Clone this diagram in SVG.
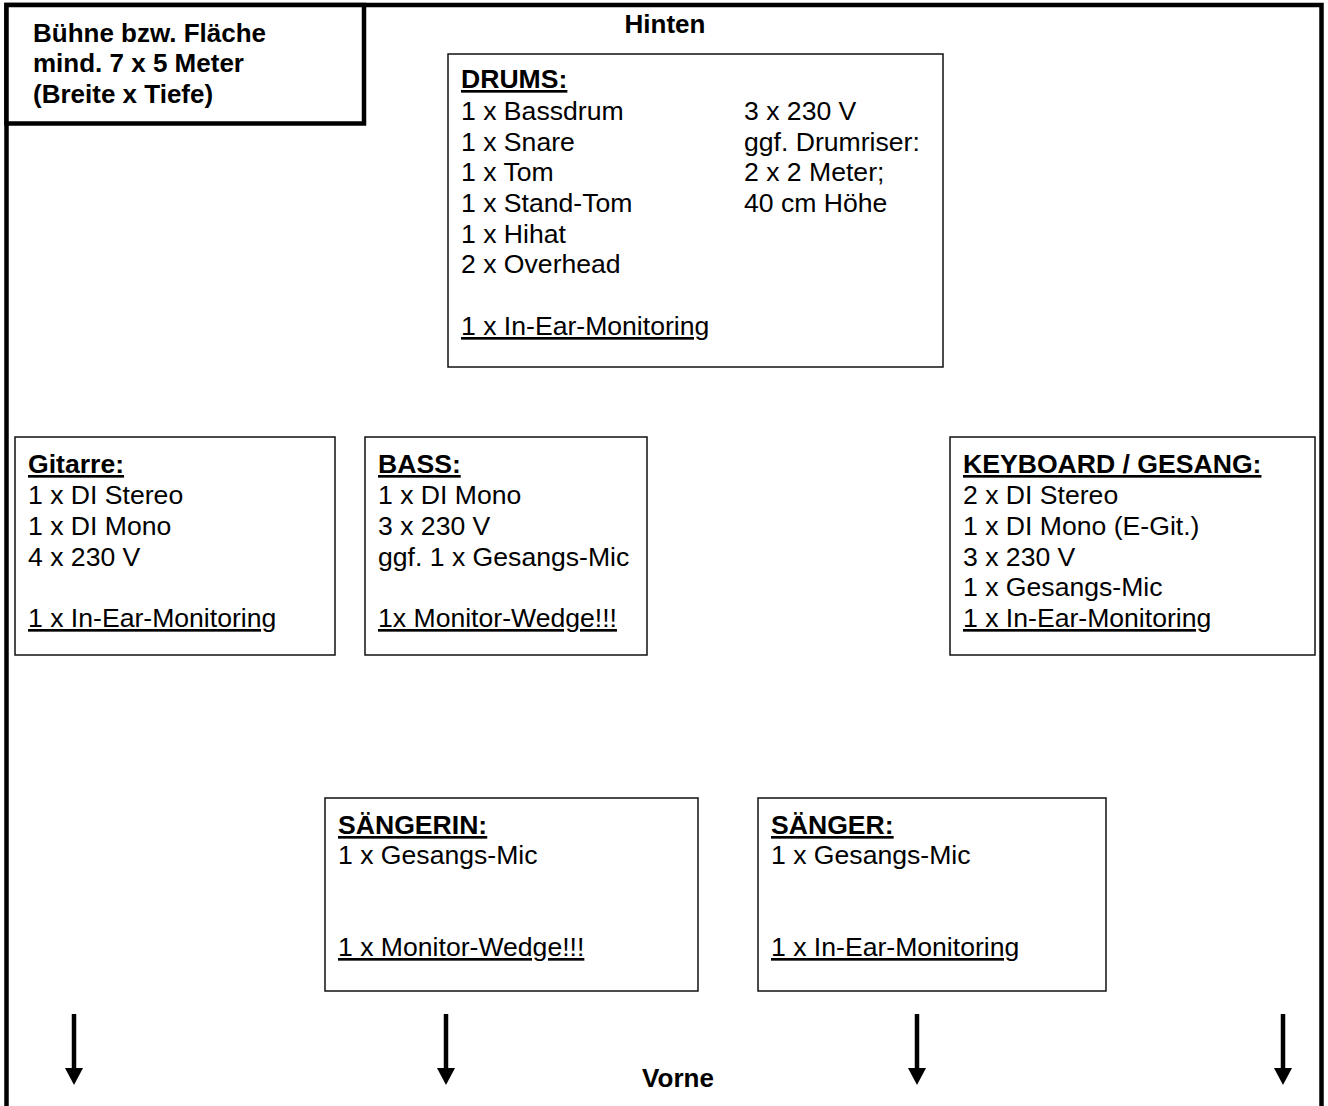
<svg xmlns="http://www.w3.org/2000/svg" width="1328" height="1106" viewBox="0 0 1328 1106">
<style>
.t{font-family:"Liberation Sans",Arial,sans-serif;font-size:26.6px;fill:#000}
.b{font-weight:bold}
.h{font-size:26px}
.u{text-decoration:underline}
.box{fill:#fff;stroke:#111;stroke-width:1.5}
.frame{fill:none;stroke:#000;stroke-width:4.5}
.arrow{stroke:#000;stroke-width:4.5;fill:none}
</style>
<defs>
<marker id="ah" markerUnits="userSpaceOnUse" markerWidth="20" markerHeight="18" refX="9" refY="0" orient="0" viewBox="-1 0 20 18">
<path d="M0,0 L18,0 L9,17 Z" fill="#000"/>
</marker>
</defs>
<rect width="1328" height="1106" fill="#fff"/>
<g id="frame">
<path class="frame" d="M6.5,1106 V5 H1321.5 V1106"/>
</g>
<g id="stage-info">
<rect x="6.5" y="5" width="357.5" height="118.5" fill="#fff" stroke="#000" stroke-width="4.5"/>
<text class="t b h" x="33" y="42">Bühne bzw. Fläche</text>
<text class="t b h" x="33" y="72">mind. 7 x 5 Meter</text>
<text class="t b h" x="33" y="103">(Breite x Tiefe)</text>
</g>
<g id="hinten">
<text class="t b h" x="665" y="33" text-anchor="middle">Hinten</text>
</g>
<g id="vorne">
<text class="t b h" x="678" y="1087" text-anchor="middle">Vorne</text>
</g>
<g id="drums">
<rect class="box" x="448" y="54" width="495" height="313"/>
<text class="t b u" x="461" y="88">DRUMS:</text>
<text class="t" x="461" y="120">1 x Bassdrum</text>
<text class="t" x="461" y="150.5">1 x Snare</text>
<text class="t" x="461" y="181">1 x Tom</text>
<text class="t" x="461" y="212">1 x Stand-Tom</text>
<text class="t" x="461" y="243">1 x Hihat</text>
<text class="t" x="461" y="273">2 x Overhead</text>
<text class="t u" x="461" y="335">1 x In-Ear-Monitoring</text>
<text class="t" x="744" y="120">3 x 230 V</text>
<text class="t" x="744" y="150.5">ggf. Drumriser:</text>
<text class="t" x="744" y="181">2 x 2 Meter;</text>
<text class="t" x="744" y="212">40 cm Höhe</text>
</g>
<g id="gitarre">
<rect class="box" x="15" y="437" width="320" height="218"/>
<text class="t b u" x="28" y="473">Gitarre:</text>
<text class="t" x="28" y="504">1 x DI Stereo</text>
<text class="t" x="28" y="535">1 x DI Mono</text>
<text class="t" x="28" y="566">4 x 230 V</text>
<text class="t u" x="28" y="627">1 x In-Ear-Monitoring</text>
</g>
<g id="bass">
<rect class="box" x="365" y="437" width="282" height="218"/>
<text class="t b u" x="378" y="473">BASS:</text>
<text class="t" x="378" y="504">1 x DI Mono</text>
<text class="t" x="378" y="535">3 x 230 V</text>
<text class="t" x="378" y="566">ggf. 1 x Gesangs-Mic</text>
<text class="t u" x="378" y="627">1x Monitor-Wedge!!!</text>
</g>
<g id="keyboard">
<rect class="box" x="950" y="437" width="365" height="218"/>
<text class="t b u" x="963" y="473">KEYBOARD / GESANG:</text>
<text class="t" x="963" y="504">2 x DI Stereo</text>
<text class="t" x="963" y="535">1 x DI Mono (E-Git.)</text>
<text class="t" x="963" y="566">3 x 230 V</text>
<text class="t" x="963" y="596">1 x Gesangs-Mic</text>
<text class="t u" x="963" y="627">1 x In-Ear-Monitoring</text>
</g>
<g id="saengerin">
<rect class="box" x="325" y="798" width="373" height="193"/>
<text class="t b u" x="338" y="834">SÄNGERIN:</text>
<text class="t" x="338" y="864">1 x Gesangs-Mic</text>
<text class="t u" x="338" y="956">1 x Monitor-Wedge!!!</text>
</g>
<g id="saenger">
<rect class="box" x="758" y="798" width="348" height="193"/>
<text class="t b u" x="771" y="834">SÄNGER:</text>
<text class="t" x="771" y="864">1 x Gesangs-Mic</text>
<text class="t u" x="771" y="956">1 x In-Ear-Monitoring</text>
</g>
<g id="connectors">
<line class="arrow" x1="74" y1="1014" x2="74" y2="1068" marker-end="url(#ah)"/>
<line class="arrow" x1="446" y1="1014" x2="446" y2="1068" marker-end="url(#ah)"/>
<line class="arrow" x1="917" y1="1014" x2="917" y2="1068" marker-end="url(#ah)"/>
<line class="arrow" x1="1283" y1="1014" x2="1283" y2="1068" marker-end="url(#ah)"/>
</g>
</svg>
